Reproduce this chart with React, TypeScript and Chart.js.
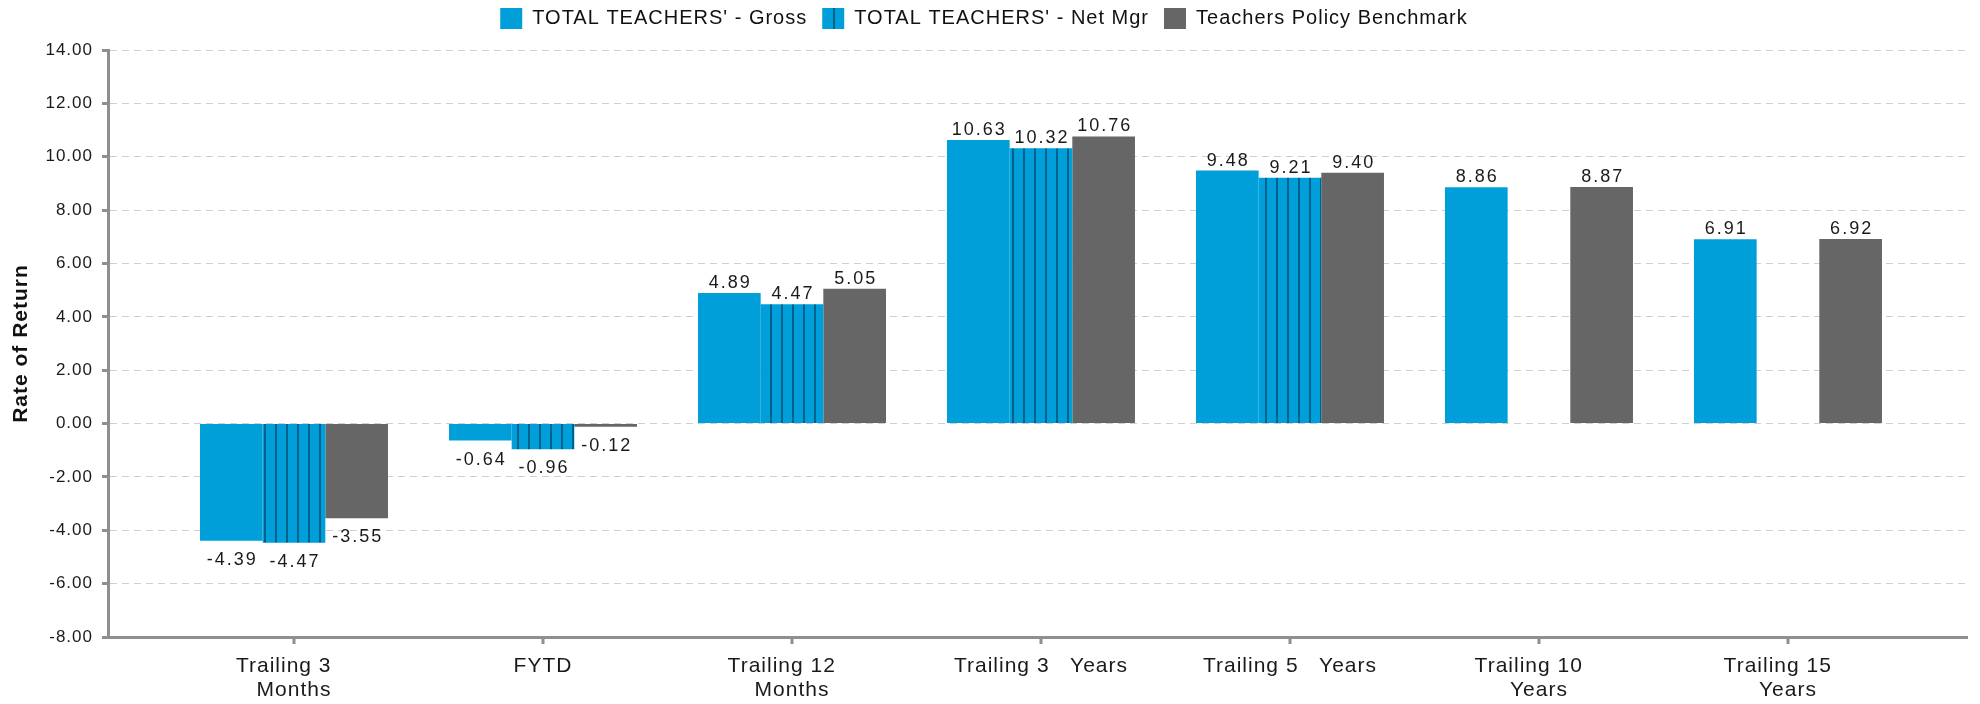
import React, { useEffect, useRef } from 'react';
import { Chart, registerables } from 'chart.js';

Chart.register(...registerables);

// ---- data ----
const CATEGORIES: (string | string[])[] = [
  ['Trailing 3   ', 'Months'],
  'FYTD',
  ['Trailing 12   ', 'Months'],
  'Trailing 3   Years',
  'Trailing 5   Years',
  ['Trailing 10   ', 'Years'],
  ['Trailing 15   ', 'Years'],
];
const SERIES_NAMES = ["TOTAL TEACHERS' - Gross", "TOTAL TEACHERS' - Net Mgr", 'Teachers Policy Benchmark'];
const GROSS = [-4.39, -0.64, 4.89, 10.63, 9.48, 8.86, 6.91];
const NET_MGR: (number | null)[] = [-4.47, -0.96, 4.47, 10.32, 9.21, null, null];
const BENCHMARK = [-3.55, -0.12, 5.05, 10.76, 9.4, 8.87, 6.92];
const Y_MIN = -8;
const Y_MAX = 14;
const Y_STEP = 2;
const Y_TITLE = 'Rate of Return';

// ---- styles ----
const FONT = '"Liberation Sans", Arial, Helvetica, sans-serif';
const BLUE = '#009fd9';
const STRIPE = '#00628c';
const GRAY = '#666666';
const AXIS = '#8f8f8f';
const GRID = '#cfcfcf';
const TEXT = '#1a1a1a';

const toPoints = (arr: (number | null)[]) => arr.map((v, i) => ({ x: i, y: v }));

function makeStripePattern(
  ctx: CanvasRenderingContext2D,
  period: number,
  stripeX: number
): CanvasPattern | string {
  const c = document.createElement('canvas');
  c.width = period;
  c.height = 4;
  const g = c.getContext('2d');
  if (!g) return BLUE;
  g.fillStyle = BLUE;
  g.fillRect(0, 0, period, 4);
  g.fillStyle = STRIPE;
  g.fillRect(stripeX, 0, 2, 4);
  return ctx.createPattern(c, 'repeat') || BLUE;
}

const spacingPlugin = {
  id: 'letterSpacing',
  beforeLayout(chart: any) {
    chart.ctx.letterSpacing = '1px';
  },
  beforeDraw(chart: any) {
    chart.ctx.letterSpacing = '1px';
  },
};

const legendHeightPlugin = {
  id: 'legendHeight',
  beforeInit(chart: any) {
    const legend = chart.legend;
    if (!legend) return;
    const orig = legend.fit;
    legend.fit = function () {
      orig.call(this);
      this.height = 57;
    };
  },
};

const valueLabelPlugin = {
  id: 'valueLabels',
  afterDatasetsDraw(chart: any) {
    const ctx = chart.ctx as CanvasRenderingContext2D;
    ctx.save();
    ctx.font = `18px ${FONT}`;
    (ctx as any).letterSpacing = '2px';
    ctx.fillStyle = TEXT;
    ctx.textAlign = 'center';
    ctx.textBaseline = 'alphabetic';
    chart.data.datasets.forEach((ds: any, di: number) => {
      const meta = chart.getDatasetMeta(di);
      if (meta.hidden) return;
      meta.data.forEach((el: any, i: number) => {
        const v = ds.data[i]?.y;
        if (v === null || v === undefined) return;
        const y = v >= 0 ? el.y - 5 : el.y + 24;
        ctx.fillText(v.toFixed(2), el.x + 1, y);
      });
    });
    ctx.restore();
  },
};

export default function App() {
  const canvasRef = useRef<HTMLCanvasElement | null>(null);

  useEffect(() => {
    const canvas = canvasRef.current;
    if (!canvas) return;
    const ctx = canvas.getContext('2d');
    if (!ctx) return;
    Chart.defaults.font.family = FONT;
    const stripe = makeStripePattern(ctx, 11, 0);
    const legendStripe = makeStripePattern(ctx, 22, 19);

    const chart = new Chart(canvas, {
      type: 'bar',
      data: {
        datasets: [
          {
            label: SERIES_NAMES[0],
            data: toPoints(GROSS),
            backgroundColor: BLUE,
            borderWidth: 0,
            categoryPercentage: 0.755,
            barPercentage: 1,
          },
          {
            label: SERIES_NAMES[1],
            data: toPoints(NET_MGR),
            backgroundColor: stripe as any,
            borderWidth: 0,
            categoryPercentage: 0.755,
            barPercentage: 1,
          },
          {
            label: SERIES_NAMES[2],
            data: toPoints(BENCHMARK),
            backgroundColor: GRAY,
            borderWidth: 0,
            categoryPercentage: 0.755,
            barPercentage: 1,
          },
        ],
      } as any,
      options: {
        responsive: false,
        animation: false,
        devicePixelRatio: 1,
        layout: { padding: { top: -7, right: 12, bottom: 0, left: 0 } },
        plugins: {
          tooltip: { enabled: false },
          legend: {
            display: true,
            position: 'top',
            align: 'center',
            labels: {
              boxWidth: 22,
              boxHeight: 21,
              padding: 15,
              color: '#111111',
              font: { size: 20 },
              generateLabels: (c: any) => {
                const items = Chart.defaults.plugins.legend.labels.generateLabels(c);
                return items.map((it: any, idx: number) =>
                  idx === 1 ? { ...it, fillStyle: legendStripe } : it
                );
              },
            },
          },
        },
        scales: {
          x: {
            type: 'linear',
            min: -0.747,
            max: 6.723,
            offset: false,
            afterFit: (s: any) => {
              s.height = 67;
            },
            grid: {
              display: true,
              drawOnChartArea: false,
              drawTicks: true,
              tickLength: 7,
              tickWidth: 3,
              tickColor: AXIS,
              lineWidth: 0,
              offset: false,
            },
            border: { display: true, color: AXIS, width: 3 },
            ticks: {
              stepSize: 1,
              includeBounds: false,
              autoSkip: false,
              maxRotation: 0,
              minRotation: 0,
              padding: 10,
              color: TEXT,
              font: { size: 21, lineHeight: 24 / 21 },
              callback: (v: any) => CATEGORIES[Number(v)] ?? '',
            },
          },
          y: {
            type: 'linear',
            min: Y_MIN,
            max: Y_MAX,
            afterFit: (s: any) => {
              s.width = 108;
            },
            grid: {
              color: GRID,
              lineWidth: 1,
              drawTicks: true,
              tickLength: 6,
              tickWidth: 3,
              tickColor: AXIS,
            },
            border: { display: true, color: AXIS, width: 3, dash: [7, 5] },
            ticks: {
              stepSize: Y_STEP,
              padding: 9,
              color: TEXT,
              font: { size: 17 },
              callback: (v: any) => Number(v).toFixed(2),
            },
            title: {
              display: true,
              text: Y_TITLE,
              color: '#111111',
              font: { size: 21, weight: 'bold' },
              padding: { top: 9, bottom: 0 },
            },
          },
        },
      } as any,
      plugins: [spacingPlugin, legendHeightPlugin, valueLabelPlugin],
    });

    return () => {
      chart.destroy();
    };
  }, []);

  return (
    <div style={{ position: 'fixed', left: 0, top: 0, width: 1980, height: 704, background: '#ffffff' }}>
      <canvas ref={canvasRef} width={1980} height={704} style={{ display: 'block' }} />
    </div>
  );
}
